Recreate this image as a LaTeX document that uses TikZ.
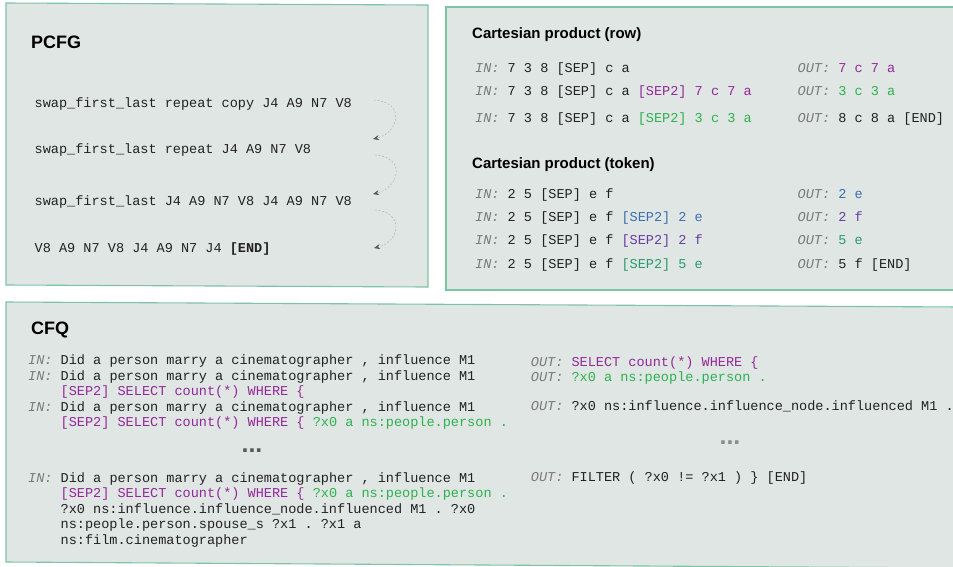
\documentclass[tikz,border=0pt]{standalone}
\usepackage{fontspec}
\setmainfont{Liberation Sans}
\setmonofont{Liberation Mono}
\usetikzlibrary{arrows.meta}

\definecolor{panelfill}{HTML}{DFE6E4}
\definecolor{panelline}{HTML}{7DC4A4}
\definecolor{txtblack}{HTML}{222222}
\definecolor{lblgray}{HTML}{7A7A7A}
\definecolor{seppurple}{HTML}{96279A}
\definecolor{sepgreen}{HTML}{2DB24F}
\definecolor{tokblue}{HTML}{3D6FAE}
\definecolor{tokviolet}{HTML}{6A3DA3}
\definecolor{tokteal}{HTML}{2A9A6C}

\newcommand{\inlbl}{\textcolor{lblgray}{\itshape IN:}}
\newcommand{\outlbl}{\textcolor{lblgray}{\itshape OUT:}}

\tikzset{
	panel/.style={fill=panelfill, draw=panelline, line width=1.1pt},
	bigtitle/.style={anchor=base west, inner sep=0pt, text=black, font=\bfseries\fontsize{18}{20}\selectfont},
	subtitle/.style={anchor=base west, inner sep=0pt, text=black, font=\bfseries\fontsize{15}{17}\selectfont},
	code/.style={anchor=base west, inner sep=0pt, text=txtblack, font=\ttfamily\fontsize{13.55}{16}\selectfont},
	gap/.style={anchor=base, inner sep=0pt, font=\bfseries\fontsize{25}{25}\selectfont},
	hop/.style={color=black!30, line width=0.5pt, dash pattern=on 1.8pt off 1.8pt,
		-{Stealth[length=6pt, width=5pt, color=black!65]}},
}

\begin{document}
\begin{tikzpicture}[x=1pt, y=-1pt]
		%%%%% START %%%%%
		\useasboundingbox (0, 0) rectangle (953, 566);
		
		% panels
		\draw[panel] (6, 3) -- (428, 5) -- (428, 287) -- (6, 285) -- cycle;
		\draw[panel] (446, 7) -- (962, 7) -- (962, 290) -- (446, 290) -- cycle;
		\draw[panel] (6, 302) -- (962, 307) -- (962, 568) -- (6, 562) -- cycle;
		
		% PCFG
		\node[bigtitle] (pcfg) at (31, 48) {PCFG};
		\node[code] (pcfgA) at (34.5, 107) {swap\_first\_last repeat copy J4 A9 N7 V8};
		\node[code] (pcfgB) at (34.5, 153) {swap\_first\_last repeat J4 A9 N7 V8};
		\node[code] (pcfgC) at (34.5, 205) {swap\_first\_last J4 A9 N7 V8 J4 A9 N7 V8};
		\node[code] (pcfgD) at (34.5, 252) {V8 A9 N7 V8 J4 A9 N7 J4 \textbf{[END]}};
		
		\coordinate (hopAs) at (374, 100);
		\coordinate (hopAe) at (373, 139);
		\coordinate (hopBs) at (375, 155);
		\coordinate (hopBe) at (373, 194);
		\coordinate (hopCs) at (375, 210);
		\coordinate (hopCe) at (374, 248);
		\draw[hop] (hopAs) .. controls +(32, 2) and +(26, -6) .. (hopAe);
		\draw[hop] (hopBs) .. controls +(32, 2) and +(26, -6) .. (hopBe);
		\draw[hop] (hopCs) .. controls +(30, 2) and +(26, -6) .. (hopCe);
		
		% Cartesian product (row)
		\node[subtitle] (rowtitle) at (472, 38.5) {Cartesian product (row)};
		\node[code] (rowinA) at (475, 72.7) {\inlbl{} 7 3 8 [SEP] c a};
		\node[code] (rowinB) at (475, 95.7) {\inlbl{} 7 3 8 [SEP] c a \textcolor{seppurple}{[SEP2] 7 c 7 a}};
		\node[code] (rowinC) at (475, 122) {\inlbl{} 7 3 8 [SEP] c a \textcolor{sepgreen}{[SEP2] 3 c 3 a}};
		\node[code] (rowoutA) at (797.5, 72.7) {\outlbl{} \textcolor{seppurple}{7 c 7 a}};
		\node[code] (rowoutB) at (797.5, 95.7) {\outlbl{} \textcolor{sepgreen}{3 c 3 a}};
		\node[code] (rowoutC) at (797.5, 122) {\outlbl{} 8 c 8 a [END]};
		
		% Cartesian product (token)
		\node[subtitle] (toktitle) at (472, 168) {Cartesian product (token)};
		\node[code] (tokinA) at (475, 198.3) {\inlbl{} 2 5 [SEP] e f};
		\node[code] (tokinB) at (475, 221.7) {\inlbl{} 2 5 [SEP] e f \textcolor{tokblue}{[SEP2] 2 e}};
		\node[code] (tokinC) at (475, 244.2) {\inlbl{} 2 5 [SEP] e f \textcolor{tokviolet}{[SEP2] 2 f}};
		\node[code] (tokinD) at (475, 268.3) {\inlbl{} 2 5 [SEP] e f \textcolor{tokteal}{[SEP2] 5 e}};
		\node[code] (tokoutA) at (797.5, 198.3) {\outlbl{} \textcolor{tokblue}{2 e}};
		\node[code] (tokoutB) at (797.5, 221.7) {\outlbl{} \textcolor{tokviolet}{2 f}};
		\node[code] (tokoutC) at (797.5, 244.2) {\outlbl{} \textcolor{tokteal}{5 e}};
		\node[code] (tokoutD) at (797.5, 268.3) {\outlbl{} 5 f [END]};
		
		% CFQ
		\node[bigtitle] (cfq) at (31, 334.3) {CFQ};
		\node[code] (cfqinA) at (28, 364.5) {\inlbl{} Did a person marry a cinematographer , influence M1};
		\node[code] (cfqinB) at (28, 380) {\inlbl{} Did a person marry a cinematographer , influence M1};
		\node[code] (cfqinBb) at (60.5, 395.5) {\textcolor{seppurple}{[SEP2] SELECT count(*) WHERE \{}};
		\node[code] (cfqinC) at (28, 411) {\inlbl{} Did a person marry a cinematographer , influence M1};
		\node[code] (cfqinCb) at (60.5, 426.5) {\textcolor{seppurple}{[SEP2] SELECT count(*) WHERE \{} \textcolor{sepgreen}{?x0 a ns:people.person .}};
		\node[gap, text=black!65] (cfqingap) at (252, 452) {...};
		\node[code] (cfqinD) at (28, 482) {\inlbl{} Did a person marry a cinematographer , influence M1};
		\node[code] (cfqinDb) at (60.5, 497.5) {\textcolor{seppurple}{[SEP2] SELECT count(*) WHERE \{} \textcolor{sepgreen}{?x0 a ns:people.person .}};
		\node[code] (cfqinDc) at (60.5, 513) {?x0 ns:influence.influence\_node.influenced M1 . ?x0};
		\node[code] (cfqinDd) at (60.5, 528.5) {ns:people.person.spouse\_s ?x1 . ?x1 a};
		\node[code] (cfqinDe) at (60.5, 544) {ns:film.cinematographer};
		
		\node[code] (cfqoutA) at (530.7, 366) {\outlbl{} \textcolor{seppurple}{SELECT count(*) WHERE \{}};
		\node[code] (cfqoutB) at (530.7, 381) {\outlbl{} \textcolor{sepgreen}{?x0 a ns:people.person .}};
		\node[code] (cfqoutC) at (530.7, 410.3) {\outlbl{} ?x0 ns:influence.influence\_node.influenced M1 .};
		\node[gap, text=black!45] (cfqoutgap) at (730, 444) {...};
		\node[code] (cfqoutD) at (530.7, 481) {\outlbl{} FILTER ( ?x0 != ?x1 ) \} [END]};
		
		%%%%% END %%%%%
	\end{tikzpicture}
\end{document}
